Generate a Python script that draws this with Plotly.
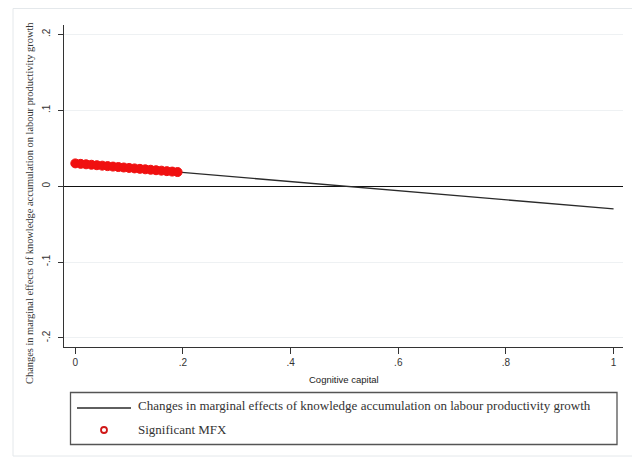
import plotly.graph_objects as go

# ---- data ----
line_x = [0.0, 0.1, 0.2, 0.3, 0.4, 0.5, 0.6, 0.7, 0.8, 0.9, 1.0]
line_y = [0.030, 0.024, 0.018, 0.012, 0.006, 0.000, -0.006, -0.012, -0.018, -0.024, -0.030]

sig_x = [0.00, 0.01, 0.02, 0.03, 0.04, 0.05, 0.06, 0.07, 0.08, 0.09,
         0.10, 0.11, 0.12, 0.13, 0.14, 0.15, 0.16, 0.17, 0.18, 0.19]
sig_y = [0.0300, 0.0294, 0.0288, 0.0282, 0.0276, 0.0270, 0.0264, 0.0258, 0.0252, 0.0246,
         0.0240, 0.0234, 0.0228, 0.0222, 0.0216, 0.0210, 0.0204, 0.0198, 0.0192, 0.0186]

x_ticks = [0, 0.2, 0.4, 0.6, 0.8, 1.0]
x_ticklabels = ["0", ".2", ".4", ".6", ".8", "1"]
y_ticks = [-0.2, -0.1, 0, 0.1, 0.2]
y_ticklabels = ["-.2", "-.1", "0", ".1", ".2"]

y_title = "Changes in marginal effects of knowledge accumulation on labour productivity growth"
x_title = "Cognitive capital"
legend_line = "Changes in marginal effects of knowledge accumulation on labour productivity growth"
legend_sig = "Significant MFX"

# ---- layout geometry (page pixels; page body has an 8px margin) ----
OFF = 8
W, H = 640 - OFF, 461 - OFF
# plot area in page pixels: x 64..623, y 25..347
ML = 64 - OFF
MR = 640 - 623
MT = 25 - OFF
MB = 461 - 347
PW, PH = W - ML - MR, H - MT - MB


def px(x):
    return (x - OFF - ML) / PW


def py(y):
    return (H - MB - (y - OFF)) / PH


SERIF = "Liberation Serif, Times New Roman, serif"
SANS = "Liberation Sans, Arial, sans-serif"

fig = go.Figure()
fig.add_trace(go.Scatter(x=line_x, y=line_y, mode="lines",
                         line=dict(color="#2a2a2a", width=1.3),
                         showlegend=False, hoverinfo="skip"))
fig.add_trace(go.Scatter(x=sig_x, y=sig_y, mode="markers",
                         marker=dict(symbol="circle", size=9, color="#f01010",
                                     line=dict(color="#f01010", width=1)),
                         showlegend=False, hoverinfo="skip"))

shapes = [
    # outer frame
    dict(type="rect", xref="paper", yref="paper", x0=px(13), x1=px(634), y0=py(8.5), y1=py(456),
         line=dict(color="#e4e8eb", width=1), fillcolor="rgba(0,0,0,0)", layer="below"),
    # legend box
    dict(type="rect", xref="paper", yref="paper", x0=px(70.5), x1=px(617), y0=py(392.5), y1=py(444.5),
         line=dict(color="#555555", width=1.3), fillcolor="white"),
    # legend line sample
    dict(type="line", xref="paper", yref="paper", x0=px(77), x1=px(131), y0=py(408), y1=py(408),
         line=dict(color="#2a2a2a", width=1.6)),
    # legend hollow circle
    dict(type="circle", xref="paper", yref="paper", x0=px(101), x1=px(107), y0=py(433), y1=py(427),
         line=dict(color="#d01818", width=1.8), fillcolor="white"),
]

annotations = [
    dict(text=y_title, xref="paper", yref="paper", x=px(29), y=py(203), showarrow=False,
         textangle=-90, font=dict(family=SERIF, size=10.4, color="#333333"),
         xanchor="center", yanchor="middle"),
    dict(text=x_title, xref="paper", yref="paper", x=px(344), y=py(379), showarrow=False,
         font=dict(family=SANS, size=9.5, color="#222222"), xanchor="center", yanchor="middle"),
    dict(text=legend_line, xref="paper", yref="paper", x=px(136), y=py(405), showarrow=False,
         font=dict(family=SERIF, size=13, color="#333333"), xanchor="left", yanchor="middle"),
    dict(text=legend_sig, xref="paper", yref="paper", x=px(136), y=py(430), showarrow=False,
         font=dict(family=SERIF, size=13, color="#333333"), xanchor="left", yanchor="middle"),
]

fig.update_layout(
    width=W, height=H, autosize=False,
    margin=dict(l=ML, r=MR, t=MT, b=MB, pad=0),
    paper_bgcolor="white", plot_bgcolor="white",
    showlegend=False,
    shapes=shapes, annotations=annotations,
    xaxis=dict(range=[-0.021, 1.0175], tickvals=x_ticks, ticktext=x_ticklabels,
               showgrid=False, zeroline=False, showline=True, linecolor="#333333", linewidth=1.3,
               ticks="outside", ticklen=6, tickcolor="#333333", tickwidth=1,
               tickfont=dict(family=SANS, size=10, color="#333333")),
    yaxis=dict(range=[-0.212, 0.2124], tickvals=y_ticks, ticktext=y_ticklabels,
               tickangle=-90, ticklabelstandoff=4,
               showgrid=True, gridcolor="#eef1f3", gridwidth=1,
               zeroline=True, zerolinecolor="#111111", zerolinewidth=1.4,
               showline=True, linecolor="#333333", linewidth=1.3,
               ticks="outside", ticklen=5, tickcolor="#333333", tickwidth=1,
               tickfont=dict(family=SANS, size=10, color="#333333")),
)

fig.write_html("out.html")
